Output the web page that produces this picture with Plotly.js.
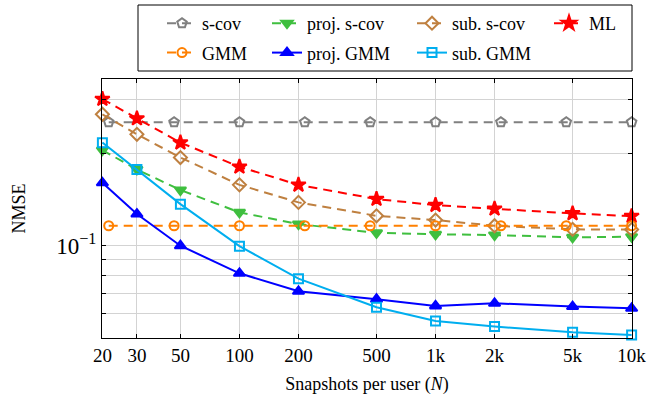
<!DOCTYPE html>
<html>
<head>
<meta charset="utf-8">
<script src="https://cdn.plot.ly/plotly-3.0.1.min.js"></script>
<style>html,body{margin:0;padding:0;background:#fff;}#chart{width:652px;height:398px;}</style>
</head>
<body>
<div id="chart"></div>
<script>
// ---- data ----
const snapshots = [20, 30, 50, 100, 200, 500, 1000, 2000, 5000, 10000];
const tickLabelsX = ["20", "30", "50", "100", "200", "500", "1k", "2k", "5k", "10k"];
const constX = [21.54, 46.42, 100, 215.4, 464.2, 1000, 2154, 4642, 10000];
const sCov = [0.253, 0.253, 0.253, 0.253, 0.253, 0.253, 0.253, 0.253, 0.253];
const gmm = [0.1162, 0.1162, 0.1162, 0.1162, 0.1162, 0.1162, 0.1162, 0.1162, 0.1162];
const projSCov = [0.205, 0.1774, 0.152, 0.1285, 0.1177, 0.1102, 0.109, 0.1084, 0.1065, 0.107];
const subSCov = [0.2685, 0.231, 0.194, 0.158, 0.1385, 0.1252, 0.1213, 0.1162, 0.1131, 0.113];
const ml = [0.301, 0.260, 0.217, 0.181, 0.158, 0.142, 0.1357, 0.132, 0.1275, 0.1249];
const projGMM = [0.1604, 0.1269, 0.100, 0.0813, 0.0710, 0.0669, 0.0636, 0.0649, 0.0633, 0.0625];
const subGMM = [0.217, 0.1774, 0.1367, 0.0997, 0.0781, 0.063, 0.0568, 0.0545, 0.0522, 0.0511];
const yTickVals = [0.06, 0.07, 0.08, 0.09, 0.1, 0.2, 0.3];
const yTickText = ["", "", "", "", "10<sup>−1</sup>", "", ""];

const dash = "9px,6px";
function tr(name, x, y, color, sym, size, dashed, legend) {
  return {
    type: "scatter", mode: "lines+markers", name: name, x: x, y: y,
    legend: legend, legendgroup: name,
    line: {color: color, width: 2, dash: dashed ? dash : "solid"},
    marker: {symbol: sym, size: size, color: color, line: {color: color, width: 2}},
    cliponaxis: false
  };
}
const traces = [
  tr("s-cov", constX, sCov, "#808080", "pentagon-open", 10, true, "legend"),
  tr("proj. s-cov", snapshots, projSCov, "#3fbf3f", "triangle-down", 10, true, "legend2"),
  tr("sub. s-cov", snapshots, subSCov, "#bf8040", "diamond-open", 10, true, "legend3"),
  tr("ML", snapshots, ml, "#ff0000", "star", 11, true, "legend4"),
  tr("GMM", constX, gmm, "#ff8000", "circle-open", 9, true, "legend"),
  tr("proj. GMM", snapshots, projGMM, "#0000ff", "triangle-up", 10, false, "legend2"),
  tr("sub. GMM", snapshots, subGMM, "#00aeef", "square-open", 9, false, "legend3")
];

const serif = "'Liberation Serif', 'Times New Roman', Times, serif";
const lfont = {family: serif, size: 18, color: "#000"};
function leg(px) {
  return {xref: "paper", yref: "paper", x: (px - 102) / 530, y: (338 - 5) / 259,
          xanchor: "left", yanchor: "top",
          orientation: "v", bgcolor: "rgba(0,0,0,0)", borderwidth: 0, font: lfont,
          tracegroupgap: 3};
}

const layout = {
  width: 652, height: 398,
  margin: {l: 102, r: 20, t: 79, b: 60, autoexpand: false},
  paper_bgcolor: "#fff", plot_bgcolor: "#fff",
  font: {family: serif, size: 18, color: "#000"},
  showlegend: true,
  legend: leg(162),
  legend2: leg(267),
  legend3: leg(412),
  legend4: leg(549),
  xaxis: {
    type: "log", range: [Math.log10(20) - 0.002, Math.log10(10000) + 0.002],
    tickvals: snapshots, ticktext: tickLabelsX,
    showgrid: true, gridcolor: "#d3d3d3", gridwidth: 1,
    showline: true, linecolor: "#000", linewidth: 1, mirror: "allticks",
    ticks: "inside", ticklen: 4, tickcolor: "#000",
    tickfont: {family: serif, size: 19}, zeroline: false,
    title: {text: "Snapshots per user (<i>N</i>)", font: {family: serif, size: 18}, standoff: 12}
  },
  yaxis: {
    type: "log", range: [Math.log10(0.05), Math.log10(0.35)],
    tickvals: yTickVals, ticktext: yTickText,
    showgrid: true, gridcolor: "#d3d3d3", gridwidth: 1,
    showline: true, linecolor: "#000", linewidth: 1, mirror: "allticks",
    ticks: "inside", ticklen: 4, tickcolor: "#000",
    tickfont: {family: serif, size: 23}, zeroline: false,
    title: {text: "NMSE", font: {family: serif, size: 18}, standoff: 25}
  },
  shapes: [{
    type: "rect", xref: "paper", yref: "paper",
    x0: (138 - 102) / 530, x1: 1, y0: (338 - 71) / 259, y1: (338 - 5) / 259,
    line: {color: "#000", width: 1}, fillcolor: "rgba(0,0,0,0)", layer: "above"
  }]
};

Plotly.newPlot("chart", traces, layout, {displayModeBar: false, staticPlot: true});
</script>
</body>
</html>
